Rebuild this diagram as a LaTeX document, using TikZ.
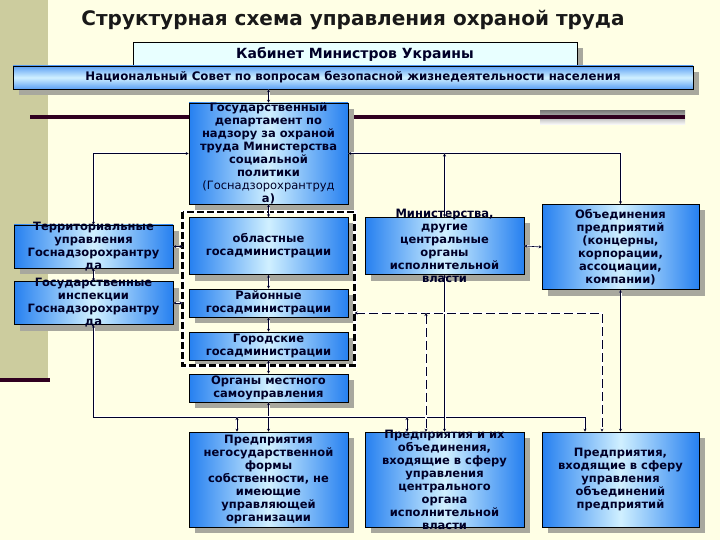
\documentclass[tikz,border=0pt]{standalone}
\usepackage{fontspec}
\setmainfont{DejaVu Sans}
\usepackage{tikz}
\usetikzlibrary{positioning, arrows.meta, fit, calc, shadows}

\definecolor{paper}{RGB}{255,255,229}
\definecolor{strip}{RGB}{204,204,158}
\definecolor{rulecol}{RGB}{48,0,32}
\definecolor{boxblue}{RGB}{38,128,240}
\definecolor{boxlight}{RGB}{208,240,255}
\definecolor{shade}{RGB}{168,168,158}
\definecolor{ink}{RGB}{0,0,40}
\definecolor{cabfill}{RGB}{232,255,255}

\begin{document}
\begin{tikzpicture}[x=1pt, y=-1pt,
  every node/.style={font=\bfseries\fontsize{11.5}{13}\selectfont, text=ink, align=center},
  unit/.style={draw=black, line width=0.6pt, inner sep=0pt,
    left color=boxblue, right color=boxblue, middle color=boxlight,
    general shadow={fill=shade, shadow xshift=6pt, shadow yshift=-6pt},
    minimum width=159, minimum height=#1},
  unit/.default=28,
  words/.style={inner sep=0pt},
  link/.style={draw=ink, line width=0.6pt, preaction={draw=white, line width=2pt},
    {Stealth[length=3pt,width=3pt]}-{Stealth[length=3pt,width=3pt]}},
  dlink/.style={link, dash pattern=on 9pt off 4pt},
]
% --- background
\fill[paper] (0,0) rectangle (720,540);
\useasboundingbox (0,0) rectangle (720,540);
\fill[strip] (0,0) rectangle (48,380);
\fill[rulecol] (0,378) rectangle (50,382);
\fill[shade] (540,111) rectangle (685,125);
\fill[rulecol] (30,115) rectangle (685,119);

% --- title
\node[text=black!90, font=\bfseries\fontsize{20}{24}\selectfont] (title) at (353,20) {Структурная схема управления охраной труда};

% --- top level
\node[draw=black, line width=0.6pt, fill=cabfill, minimum width=444, minimum height=24,
  general shadow={fill=shade, shadow xshift=6pt, shadow yshift=-6pt},
  font=\bfseries\fontsize{14}{16}\selectfont] (cab) at (355,54)
  {Кабинет Министров Украины};
\node[draw=black, line width=0.6pt, minimum width=680, minimum height=23,
  top color=boxblue!75, bottom color=boxblue!75, middle color=boxlight,
  general shadow={fill=shade, shadow xshift=6pt, shadow yshift=-6pt},
  font=\bfseries\fontsize{11.8}{13}\selectfont] (nat) at (353,77.5)
  {Национальный Совет по вопросам безопасной жизнедеятельности населения};

% --- central column
\node[unit=101, label={[words]center:{Государственный\\департамент по\\надзору за охраной\\труда Министерства\\социальной\\политики\\\mdseries(Госнадзорохрантруд\\а)}}] (dept) at (268.5,153.5) {};
\node[unit=57] (obl) at (268.5,246) {областные\\госадминистрации};
\node[unit] (rai) at (268.5,303) {Районные\\госадминистрации};
\node[unit] (gor) at (268.5,346) {Городские\\госадминистрации};
\node[unit] (mest) at (268.5,388) {Органы местного\\самоуправления};
\node[fit=(obl)(gor), inner xsep=6pt, inner ysep=5pt] (grp) {};
\draw[white, line width=4pt] (grp.north west) rectangle (grp.south east);
\draw[black, line width=2.6pt, dash pattern=on 7pt off 3pt] (grp.north west) rectangle (grp.south east);

% --- left column
\node[unit=43, label={[words]center:{Территориальные\\управления\\Госнадзорохрантру\\да}}] (terr) at (93.5,246.5) {};
\node[unit=43, label={[words]center:{Государственные\\инспекции\\Госнадзорохрантру\\да}}] (insp) at (93.5,303) {};

% --- right columns
\node[unit=57, label={[words]center:{Министерства,\\другие\\центральные\\органы\\исполнительной\\власти}}] (min) at (444.5,246) {};
\node[unit=85, minimum width=157] (assoc) at (620.5,247)
  {Объединения\\предприятий\\(концерны,\\корпорации,\\ассоциации,\\компании)};

% --- enterprises
\node[unit=95] (ent1) at (268.5,479.5)
  {Предприятия\\негосударственной\\формы\\собственности, не\\имеющие\\управляющей\\организации};
\node[unit=95, label={[words]center:{Предприятия и их\\объединения,\\входящие в сферу\\управления\\центрального\\органа\\исполнительной\\власти}}] (ent2) at (444.5,479.5) {};
\node[unit=95, minimum width=157] (ent3) at (620.5,479.5)
  {Предприятия,\\входящие в сферу\\управления\\объединений\\предприятий};

% --- connectors
\coordinate (busR) at (585,417);
\coordinate (dropA) at (237,417);
\coordinate (dropB) at (407,417);
\coordinate (dashR) at (602,313);
\coordinate (dashM) at (426,313);

\draw[link] (nat.south -| dept.north) -- (dept.north);
\draw[link] (dept.west) -| (terr.north);
\draw[link] (terr.south) -- (insp.north);
\draw[link] (dept.east) -| (assoc.north);
\draw[link] (min.north |- dept.east) -- (min.north);
\draw[link] (dept.south) -- (obl.north);
\draw[link] (obl.south) -- (rai.north);
\draw[link] (rai.south) -- (gor.north);
\draw[link] (gor.south) -- (mest.north);
\draw[link] (mest.south) -- (ent1.north);
\draw[link] (terr.east) -- (grp.west |- terr.east);
\draw[link] (insp.east) -- (grp.west |- insp.east);
\draw[link] (min.east) -- (assoc.west);
\draw[link] (insp.south) |- (busR) -- (busR |- ent3.north);
\draw[link] (dropA) -- (dropA |- ent1.north);
\draw[link] (dropB) -- (dropB |- ent2.north);
\draw[link] (min.south) -- (min.south |- ent2.north);
\draw[link] (assoc.south) -- (assoc.south |- ent3.north);
\draw[dlink] (grp.east |- dashR) -- (dashR) -- (dashR |- ent3.north);
\draw[dlink] (dashM) -- (dashM |- ent2.north);
\end{tikzpicture}
\end{document}
